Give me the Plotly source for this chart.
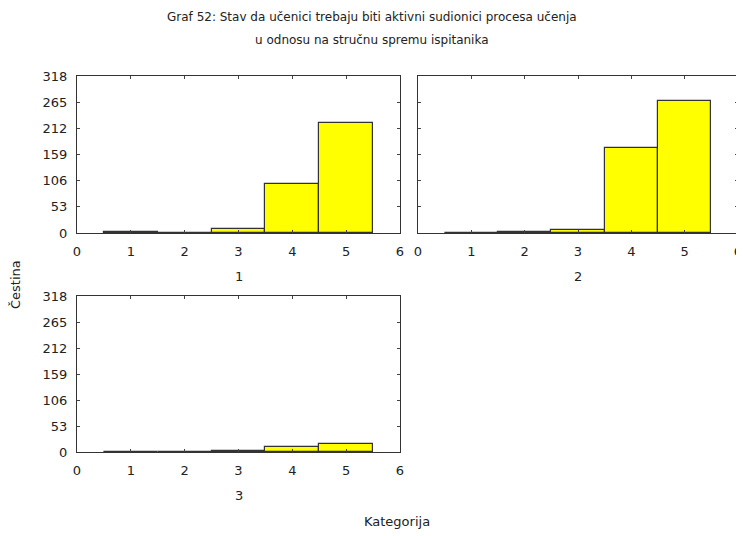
import plotly.graph_objects as go
from plotly.subplots import make_subplots

# categories (answer scale) and frequencies per group (stručna sprema)
kategorije = [1, 2, 3, 4, 5]
grupa_1 = [2, 1, 9, 100, 222]
grupa_2 = [1, 3, 7, 173, 267]
grupa_3 = [1, 1, 2, 11, 16]
grupe = ["1", "2", "3"]
y_ticks = [0, 53, 106, 159, 212, 265, 318]
x_ticks = [0, 1, 2, 3, 4, 5, 6]

# the page body keeps its default 8px margin, so the figure is 8px smaller
OFF = 8
W, H = 744 - OFF, 536 - OFF
FONT = "DejaVu Sans, Arial, sans-serif"
TXT = "#222222"


def px(x):
    return (x - OFF) / W


def py(y):
    return 1 - (y - OFF) / H


fig = make_subplots(rows=2, cols=2, specs=[[{}, {}], [{}, None]])

for data, (r, c) in zip([grupa_1, grupa_2, grupa_3], [(1, 1), (1, 2), (2, 1)]):
    fig.add_trace(
        go.Bar(
            x=kategorije, y=data, width=1,
            marker=dict(color="#ffff00", line=dict(color="#333333", width=1.2)),
            showlegend=False,
        ),
        row=r, col=c,
    )

# panel positions in page pixels (left, right, top, bottom)
panels = {
    (1, 1): (77, 400, 76, 233),
    (1, 2): (418, 738, 76, 233),
    (2, 1): (77, 400, 296, 452),
}

for (r, c), (l, rr, t, b) in panels.items():
    fig.update_xaxes(
        domain=[px(l), px(rr)], range=[0, 6], tickvals=x_ticks,
        ticks="inside", ticklen=3, mirror="ticks", showline=True,
        linecolor="#333333", linewidth=1, showgrid=False, zeroline=False,
        automargin=False, ticklabelstandoff=6,
        tickfont=dict(size=13, color=TXT, family=FONT),
        row=r, col=c,
    )
    fig.update_yaxes(
        domain=[py(b), py(t)], range=[0, 318], tickvals=y_ticks,
        ticks="inside", ticklen=3, mirror="ticks", showline=True,
        linecolor="#333333", linewidth=1, showgrid=False, zeroline=False,
        automargin=False, ticklabelstandoff=6,
        showticklabels=(c == 1),
        tickfont=dict(size=13, color=TXT, family=FONT),
        row=r, col=c,
    )

# group labels under each panel
for name, (l, rr, t, b) in zip(grupe, panels.values()):
    fig.add_annotation(
        x=px((l + rr) / 2), y=py(b + 43), xref="paper", yref="paper",
        xanchor="center", yanchor="middle",
        text=name, showarrow=False, font=dict(size=13, color=TXT, family=FONT),
    )

fig.add_annotation(
    x=px(372), y=py(17), xref="paper", yref="paper", showarrow=False,
    xanchor="center", yanchor="middle",
    text="Graf 52: Stav da učenici trebaju biti aktivni sudionici procesa učenja",
    font=dict(size=12, color=TXT, family=FONT),
)
fig.add_annotation(
    x=px(372), y=py(40), xref="paper", yref="paper", showarrow=False,
    xanchor="center", yanchor="middle",
    text="u odnosu na stručnu spremu ispitanika",
    font=dict(size=12, color=TXT, family=FONT),
)
fig.add_annotation(
    x=px(15), y=py(285), xref="paper", yref="paper", showarrow=False,
    xanchor="center", yanchor="middle",
    text="Čestina", textangle=-90,
    font=dict(size=13, color=TXT, family=FONT),
)
fig.add_annotation(
    x=px(397), y=py(521), xref="paper", yref="paper", showarrow=False,
    xanchor="center", yanchor="middle",
    text="Kategorija",
    font=dict(size=13, color=TXT, family=FONT),
)

fig.update_layout(
    width=W, height=H,
    margin=dict(l=0, r=0, t=0, b=0),
    paper_bgcolor="white", plot_bgcolor="white",
    bargap=0,
)

fig.write_html("out.html")
